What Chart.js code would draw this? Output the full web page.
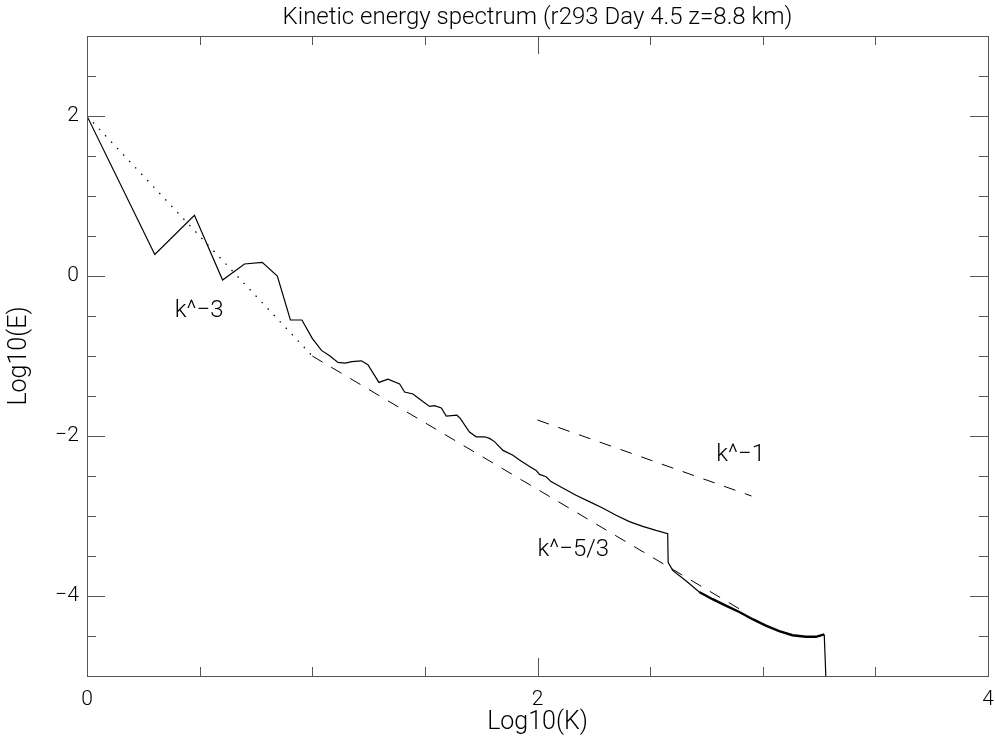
<!DOCTYPE html>
<html>
<head>
<meta charset="utf-8">
<title>Kinetic energy spectrum</title>
<script src="https://cdn.jsdelivr.net/npm/chart.js@4.4.0/dist/chart.umd.min.js"></script>
<style>
	html, body { margin: 0; padding: 0; background: #fff; }
	#chart-wrap { position: relative; width: 995px; height: 745px; }
</style>
</head>
<body>
<div id="chart-wrap"><canvas id="chart-spectrum"></canvas></div>
<script>
// Spectrum (log10 k, log10 E)
const logK = [0, 0, 0.301, 0.477, 0.602, 0.699, 0.778, 0.845, 0.903, 0.954,
	1.0, 1.041, 1.079, 1.114, 1.146, 1.176, 1.218, 1.247, 1.296, 1.336,
	1.388, 1.41, 1.447, 1.491, 1.521, 1.543, 1.573, 1.595, 1.642, 1.657,
	1.698, 1.728, 1.765, 1.787, 1.809, 1.847, 1.891, 1.92, 1.965, 1.994,
	2.009, 2.038, 2.06, 2.112, 2.171, 2.23, 2.289, 2.349, 2.408, 2.467,
	2.526, 2.578, 2.58, 2.6, 2.659, 2.718, 2.777, 2.836, 2.896, 2.955,
	3.014, 3.073, 3.132, 3.191, 3.236, 3.273, 3.28];
const logE = [0, 2, 0.27, 0.76, -0.05, 0.15, 0.17, 0.0, -0.55, -0.55,
	-0.78, -0.93, -1.0, -1.08, -1.09, -1.07, -1.06, -1.11, -1.33, -1.29,
	-1.35, -1.45, -1.475, -1.57, -1.63, -1.62, -1.65, -1.75, -1.74, -1.78,
	-1.95, -2.01, -2.01, -2.03, -2.07, -2.18, -2.24, -2.3, -2.38, -2.43,
	-2.48, -2.51, -2.57, -2.65, -2.74, -2.82, -2.9, -2.99, -3.07, -3.13,
	-3.18, -3.22, -3.58, -3.68, -3.81, -3.95, -4.04, -4.12, -4.2, -4.29,
	-4.37, -4.44, -4.49, -4.51, -4.51, -4.48, -5.0];

// Reference slopes
const slope3K = [0, 1];
const slope3E = [2, -1];
const slope53K = [1, 2.9];
const slope53E = [-1, -4.167];
const slope1K = [2, 2.95];
const slope1E = [-1.8, -2.75];

// Axes
const xMajor = [0, 2, 4];
const yMajor = [-4, -2, 0, 2];
const minorStep = 0.5;

// Slope labels
const labelText = ["k^\u22123", "k^\u22121", "k^\u22125/3"];
const labelK = [0.39, 2.794, 2.0];
const labelE = [-0.44, -2.24, -3.425];

const FONT_FAMILY = "Roboto, 'Liberation Sans', 'DejaVu Sans', sans-serif";
const TICK_FONT = { family: FONT_FAMILY, size: 21, weight: "300" };
const TITLE_FONT = { family: FONT_FAMILY, size: 24, weight: "300" };
const AXIS_TITLE_FONT = { family: FONT_FAMILY, size: 25, weight: "300" };
const AXIS_COLOR = "#555";
const INK = "#000";

const toPoints = (xs, ys) => xs.map((x, i) => ({ x, y: ys[i] }));
const fmt = (v) => String(v).replace("-", "\u2212");

//---------------------------------------------------------
// Plugins
//---------------------------------------------------------
// IDL-style box with inward ticks on all four sides
const frameTicks = {
	id: "frameTicks",
	afterDatasetsDraw(chart) {
		const { ctx, chartArea: a, scales: { x, y } } = chart;
		ctx.save();
		ctx.strokeStyle = AXIS_COLOR;
		ctx.lineWidth = 1;
		ctx.strokeRect(a.left + 0.5, a.top + 0.5, a.right - a.left, a.bottom - a.top);
		ctx.beginPath();
		for (let v = x.min; v <= x.max + 1e-9; v += minorStep) {
			const px = Math.round(x.getPixelForValue(v)) + 0.5;
			const len = xMajor.includes(v) ? 18 : 9;
			ctx.moveTo(px, a.bottom);
			ctx.lineTo(px, a.bottom - len);
			ctx.moveTo(px, a.top);
			ctx.lineTo(px, a.top + len);
		}
		for (let v = y.min; v <= y.max + 1e-9; v += minorStep) {
			const py = Math.round(y.getPixelForValue(v)) + 0.5;
			const len = yMajor.includes(v) ? 18 : 9;
			ctx.moveTo(a.left, py);
			ctx.lineTo(a.left + len, py);
			ctx.moveTo(a.right, py);
			ctx.lineTo(a.right - len, py);
		}
		ctx.stroke();
		ctx.restore();
	},
};

// Slope annotations in data coordinates
const slopeLabels = {
	id: "slopeLabels",
	afterDatasetsDraw(chart) {
		const { ctx, scales: { x, y } } = chart;
		ctx.save();
		ctx.fillStyle = INK;
		ctx.font = `${TITLE_FONT.weight} ${TITLE_FONT.size}px ${FONT_FAMILY}`;
		ctx.textAlign = "left";
		ctx.textBaseline = "middle";
		labelText.forEach((t, i) => {
			ctx.fillText(t, x.getPixelForValue(labelK[i]), y.getPixelForValue(labelE[i]));
		});
		ctx.restore();
	},
};

//---------------------------------------------------------
// Chart
//---------------------------------------------------------
const CHART_DATA = {
	datasets: [
		{
			label: "Spectrum",
			data: toPoints(logK, logE),
			borderColor: INK,
			borderWidth: 1.2,
			segment: {
				// noisy high-k tail drawn as a thicker band
				borderWidth: (c) => (c.p0.parsed.x >= 2.7 && c.p1.parsed.x - c.p0.parsed.x > 0.01 ? 2.4 : 1.2),
			},
			pointRadius: 0,
			tension: 0,
		},
		{
			label: "k^-3",
			data: toPoints(slope3K, slope3E),
			borderColor: INK,
			borderWidth: 1.3,
			borderDash: [1.5, 7.3],
			pointRadius: 0,
		},
		{
			label: "k^-5/3",
			data: toPoints(slope53K, slope53E),
			borderColor: INK,
			borderWidth: 1,
			borderDash: [12, 10],
			pointRadius: 0,
		},
		{
			label: "k^-1",
			data: toPoints(slope1K, slope1E),
			borderColor: INK,
			borderWidth: 1,
			borderDash: [12, 10],
			pointRadius: 0,
		},
	],
};

const CHART_CONFIG = {
	type: "scatter",
	data: CHART_DATA,
	options: {
		animation: false,
		responsive: true,
		maintainAspectRatio: false,
		showLine: true,
		layout: {
			padding: { left: 0, right: 7, top: 0, bottom: 0 },
		},
		scales: {
			x: {
				type: "linear",
				min: 0,
				max: 4,
				afterBuildTicks: (s) => {
					s.ticks = xMajor.map((v) => ({ value: v }));
				},
				afterFit: (s) => {
					s.height = 69;
					s.paddingLeft = 0;
					s.paddingRight = 0;
				},
				border: { display: false },
				grid: { display: false, drawTicks: false },
				ticks: {
					font: TICK_FONT,
					color: INK,
					padding: 11,
					maxRotation: 0,
					callback: fmt,
				},
				title: {
					display: true,
					text: "Log10(K)",
					font: AXIS_TITLE_FONT,
					color: INK,
					padding: { top: 0, bottom: 7 },
				},
			},
			y: {
				type: "linear",
				min: -5,
				max: 3,
				afterBuildTicks: (s) => {
					s.ticks = yMajor.map((v) => ({ value: v }));
				},
				afterFit: (s) => {
					s.width = 87;
					s.paddingTop = 0;
					s.paddingBottom = 0;
				},
				border: { display: false },
				grid: { display: false, drawTicks: false },
				ticks: {
					font: TICK_FONT,
					color: INK,
					padding: 8,
					callback: fmt,
				},
				title: {
					display: true,
					text: "Log10(E)",
					font: AXIS_TITLE_FONT,
					color: INK,
					padding: { top: 5, bottom: 0 },
				},
			},
		},
		plugins: {
			legend: { display: false },
			tooltip: { enabled: false },
			title: {
				display: true,
				fullSize: false,
				text: "Kinetic energy spectrum (r293 Day 4.5 z=8.8 km)",
				font: TITLE_FONT,
				color: INK,
				padding: { top: 4, bottom: 3.2 },
			},
		},
	},
	plugins: [frameTicks, slopeLabels],
};

new Chart(document.getElementById("chart-spectrum"), CHART_CONFIG);
</script>
</body>
</html>
